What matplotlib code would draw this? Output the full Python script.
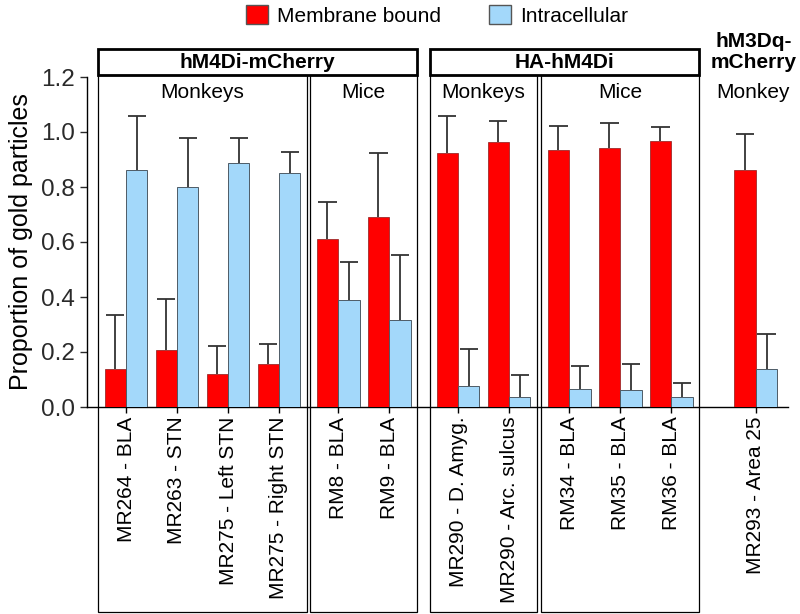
import matplotlib
matplotlib.use("Agg")
import matplotlib.pyplot as plt
import matplotlib.transforms as mtransforms
from matplotlib.patches import Rectangle, Patch
import numpy as np

plt.rcParams['font.family'] = ['Liberation Sans', 'DejaVu Sans']

# --- data ---
labels = ["MR264 - BLA", "MR263 - STN", "MR275 - Left STN", "MR275 - Right STN",
          "RM8 - BLA", "RM9 - BLA",
          "MR290 - D. Amyg.", "MR290 - Arc. sulcus",
          "RM34 - BLA", "RM35 - BLA", "RM36 - BLA",
          "MR293 - Area 25"]
membrane = [0.138, 0.207, 0.119, 0.155, 0.611, 0.690, 0.924, 0.964, 0.935, 0.942, 0.967, 0.862]
membrane_err = [0.197, 0.187, 0.102, 0.075, 0.134, 0.234, 0.134, 0.076, 0.087, 0.091, 0.051, 0.131]
intra = [0.862, 0.800, 0.887, 0.850, 0.390, 0.315, 0.076, 0.036, 0.064, 0.061, 0.036, 0.137]
intra_err = [0.196, 0.180, 0.093, 0.077, 0.136, 0.237, 0.135, 0.081, 0.086, 0.096, 0.050, 0.127]

# layout: extra space after these group indices
gap_after = {3: 0.16, 5: 0.35, 7: 0.18, 10: 0.66}

RED = "#ff0000"
BLUE = "#a3d8fa"
ERR = "#333333"

pos = []
cur = 0.0
for i in range(len(labels)):
    pos.append(cur)
    cur += 1 + gap_after.get(i, 0)
pos = np.array(pos)

fig = plt.figure(figsize=(8, 6.14), dpi=100)
ax = fig.add_axes([87 / 800, 207 / 614, 701 / 800, 330 / 614])

w = 0.42
ax.bar(pos - w / 2, membrane, w, color=RED, edgecolor="#8a1a1a", linewidth=0.5, zorder=3)
ax.bar(pos + w / 2, intra, w, color=BLUE, edgecolor="#4d5b66", linewidth=0.7, zorder=3)

# one-sided (upper) error bars
cap = 0.18
for xs, vals, errs in [(pos - w / 2, membrane, membrane_err), (pos + w / 2, intra, intra_err)]:
    vals = np.array(vals)
    tops = vals + np.array(errs)
    ax.vlines(xs, vals, tops, color=ERR, linewidth=1.3, zorder=2)
    ax.hlines(tops, xs - cap, xs + cap, color=ERR, linewidth=1.3, zorder=2)

ax.set_xlim((87 - 126) / 51, (788 - 126) / 51)
ax.set_ylim(0, 1.2)
ax.set_yticks(np.arange(0, 1.21, 0.2))
ax.set_yticklabels([f"{v:.1f}" for v in np.arange(0, 1.21, 0.2)])
ax.set_xticks(pos)
ax.set_xticklabels(labels, rotation=90, fontsize=15, color="black")
ax.tick_params(axis='y', labelsize=17.5, length=5, width=1.0, colors="#2a2a2a")
ax.tick_params(axis='x', length=4, width=1.0, pad=3)
ax.set_ylabel("Proportion of gold particles", fontsize=18, labelpad=6)

for s in ["top", "right"]:
    ax.spines[s].set_visible(False)
ax.spines["left"].set_bounds(0, 1.2)
ax.spines["left"].set_linewidth(1.0)
ax.spines["bottom"].set_linewidth(1.0)

# --- group boxes (x in data units, y in figure fraction) ---
trans = mtransforms.blended_transform_factory(ax.transData, fig.transFigure)
y_head_top = 1 - 49 / 614
y_head_bot = 1 - 75 / 614
y_bottom = 1 - 612 / 614
pad = 0.55

inner = [(0, 3, "Monkeys"), (4, 5, "Mice"), (6, 7, "Monkeys"), (8, 10, "Mice")]
for a, b, name in inner:
    x0, x1 = pos[a] - pad, pos[b] + pad
    fig.add_artist(Rectangle((x0, y_bottom), x1 - x0, y_head_bot - y_bottom, transform=trans,
                             fill=False, edgecolor="black", linewidth=0.9, clip_on=False))
    fig.text((x0 + x1) / 2, 1 - 92 / 614, name, transform=trans, ha="center", va="center",
             fontsize=15)

headers = [(0, 5, "hM4Di-mCherry"), (6, 10, "HA-hM4Di")]
for a, b, name in headers:
    x0, x1 = pos[a] - pad, pos[b] + pad
    fig.add_artist(Rectangle((x0, y_head_bot), x1 - x0, y_head_top - y_head_bot, transform=trans,
                             fill=False, edgecolor="black", linewidth=2.0, clip_on=False))
    fig.text((x0 + x1) / 2, (y_head_top + y_head_bot) / 2, name, transform=trans,
             ha="center", va="center", fontsize=15, fontweight="bold")

fig.text(pos[11] - 0.05, 1 - 52 / 614, "hM3Dq-\nmCherry", transform=trans, ha="center",
         va="center", fontsize=15, fontweight="bold", linespacing=1.15)
fig.text(pos[11] - 0.05, 1 - 92 / 614, "Monkey", transform=trans, ha="center", va="center",
         fontsize=15)

# --- legend ---
handles = [Patch(facecolor=RED, edgecolor="#555555", label="Membrane bound"),
           Patch(facecolor=BLUE, edgecolor="#555555", label="Intracellular")]
fig.legend(handles=handles, loc="upper center", bbox_to_anchor=(437 / 800, 1.012), ncol=2,
           frameon=False, fontsize=15, handlelength=1.05, handleheight=1.05,
           handletextpad=0.45, columnspacing=2.3, borderpad=0.1)

fig.savefig("out.png", dpi=100)
